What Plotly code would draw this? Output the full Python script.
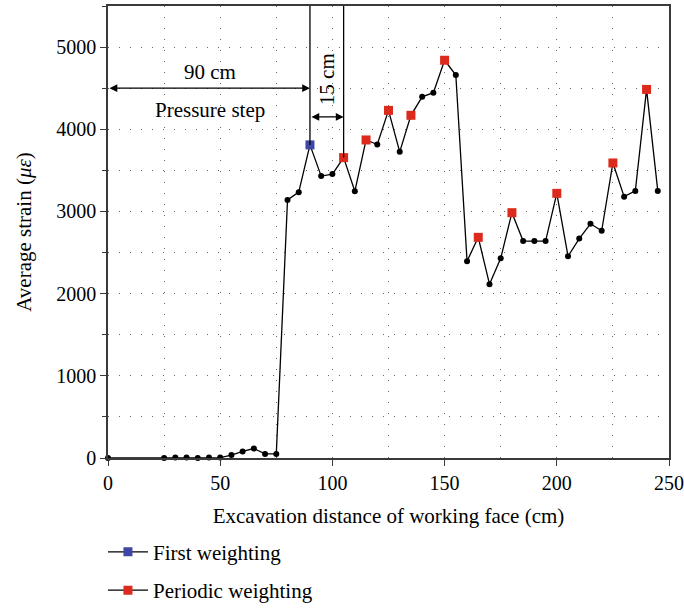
import plotly.graph_objects as go

# ---- data ----
x_cm = [0, 25, 30, 35, 40, 45, 50, 55, 60, 65, 70, 75, 80, 85, 90, 95, 100, 105,
        110, 115, 120, 125, 130, 135, 140, 145, 150, 155, 160, 165, 170, 175, 180,
        185, 190, 195, 200, 205, 210, 215, 220, 225, 230, 235, 240, 245]
strain = [0, 0, 5, 5, 0, 5, 5, 35, 80, 115, 50, 50, 3140, 3235, 3810, 3430, 3455, 3655,
          3245, 3870, 3815, 4230, 3725, 4170, 4395, 4445, 4840, 4660, 2395, 2685, 2115, 2430, 2985,
          2640, 2640, 2640, 3220, 2455, 2670, 2850, 2765, 3590, 3180, 3250, 4485, 3250]

first_x = [90]
first_y = [3810]
periodic_x = [105, 115, 125, 135, 150, 165, 180, 200, 225, 240]
periodic_y = [3655, 3870, 4230, 4170, 4840, 2685, 2985, 3220, 3590, 4485]

x_ticks = [0, 50, 100, 150, 200, 250]
y_ticks = [0, 1000, 2000, 3000, 4000, 5000]

step_start, step_first, step_next = 0, 90, 105
y_top = 5500

FONT = "Liberation Serif"
AX = "#3a3a3a"
BLUE = "#3f47a6"
RED = "#dc2a1c"
FS = 21

fig = go.Figure()

fig.add_trace(go.Scatter(x=x_cm, y=strain, mode="lines+markers",
                         line=dict(color="black", width=1.3),
                         marker=dict(color="black", size=6),
                         showlegend=False, cliponaxis=False))
fig.add_trace(go.Scatter(x=first_x, y=first_y, mode="markers",
                         marker=dict(color=BLUE, size=9, symbol="square"),
                         showlegend=False))
fig.add_trace(go.Scatter(x=periodic_x, y=periodic_y, mode="markers",
                         marker=dict(color=RED, size=9, symbol="square"),
                         showlegend=False))
# legend entries (line + square)
fig.add_trace(go.Scatter(x=[None], y=[None], mode="lines+markers", name="First weighting",
                         legendgroup="a",
                         line=dict(color="black", width=1.3),
                         marker=dict(color=BLUE, size=9, symbol="square")))
fig.add_trace(go.Scatter(x=[None], y=[None], mode="lines+markers", name="Periodic weighting",
                         legendgroup="b",
                         line=dict(color="black", width=1.3),
                         marker=dict(color=RED, size=9, symbol="square")))

# vertical step lines
y_first = strain[x_cm.index(step_first)]
y_next = strain[x_cm.index(step_next)]
fig.add_shape(type="line", x0=step_first, x1=step_first, y0=y_first, y1=y_top,
              line=dict(color="black", width=1.3))
fig.add_shape(type="line", x0=step_next, x1=step_next, y0=y_next, y1=y_top,
              line=dict(color="black", width=1.3))

# double arrows
for (xa, xb, yy) in [(step_start, step_first, 4500), (step_first, step_next, 4150)]:
    fig.add_annotation(x=xb, y=yy, ax=xa, ay=yy, axref="x", ayref="y", xref="x", yref="y",
                       text="", showarrow=True, arrowhead=2, arrowside="end+start",
                       arrowsize=1.2, arrowwidth=1.3, arrowcolor="black")

fig.add_annotation(x=45.5, y=4700, text="90 cm", showarrow=False,
                   font=dict(family=FONT, size=FS, color="black"))
fig.add_annotation(x=45.5, y=4230, text="Pressure step", showarrow=False,
                   font=dict(family=FONT, size=FS, color="black"))
fig.add_annotation(x=97.6, y=4610, text="15 cm", showarrow=False, textangle=-90,
                   font=dict(family=FONT, size=FS, color="black"))

grid = dict(showgrid=True, gridcolor="#666", gridwidth=1, griddash="1px,10px")

fig.update_xaxes(range=[0, 250], tickvals=x_ticks, ticks="outside", ticklen=6,
                 tickcolor=AX, showline=True, linecolor=AX, linewidth=1.5, mirror=True,
                 zeroline=False, **grid,
                 minor=dict(dtick=25, tick0=0, showgrid=True, gridcolor="#666", gridwidth=1,
                            griddash="1px,10px", ticks=""),
                 title=dict(text="Excavation distance of working face (cm)",
                            font=dict(family=FONT, size=FS, color="black"), standoff=16),
                 tickfont=dict(family=FONT, size=20, color="black"))
fig.update_yaxes(range=[0, y_top], tickvals=y_ticks, ticks="outside", ticklen=6,
                 tickcolor=AX, showline=True, linecolor=AX, linewidth=1.5, mirror=True,
                 zeroline=False, **grid,
                 minor=dict(dtick=500, tick0=0, showgrid=True, gridcolor="#666", gridwidth=1,
                            griddash="1px,10px", ticks="outside", ticklen=4, tickcolor=AX),
                 title=dict(text="Average strain (<i>με</i>)",
                            font=dict(family=FONT, size=FS, color="black"), standoff=19),
                 tickfont=dict(family=FONT, size=20, color="black"))

fig.update_layout(
    width=684, height=610,
    margin=dict(l=108, r=15, t=6, b=152, autoexpand=False),
    plot_bgcolor="white", paper_bgcolor="white",
    font=dict(family=FONT, size=FS, color="black"),
    legend=dict(x=-0.009, y=-0.163, xanchor="left", yanchor="top",
                traceorder="grouped", tracegroupgap=8, itemwidth=40,
                font=dict(family=FONT, size=FS, color="black")),
)

fig.write_html("out.html")
